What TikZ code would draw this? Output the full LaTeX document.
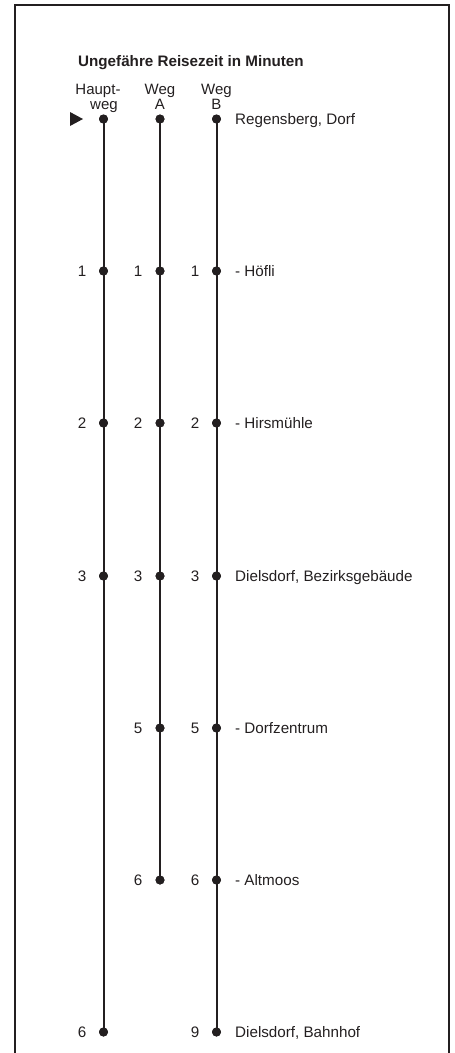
\documentclass[tikz,border=0pt]{standalone}
\usepackage{fontspec}
\setmainfont{Liberation Sans}
\definecolor{ink}{HTML}{231F20}
\begin{document}
\begin{tikzpicture}[x=1pt,y=-1pt,
  dot/.style={circle,fill=ink,inner sep=0pt,minimum size=9pt},
  route/.style={line width=2pt,draw=ink},
  txt/.style={inner sep=0pt,text=ink,font=\fontsize{15.2}{16}\selectfont},
  lbl/.style={txt,anchor=base west},
  num/.style={txt,anchor=base},
  head/.style={inner sep=0pt,text=ink,anchor=base,font=\fontsize{15}{15}\selectfont}]
\useasboundingbox (0,0) rectangle (455,1053);
\draw[line width=2pt,draw=ink] (15,1053) -- (15,5) -- (449,5) -- (449,1053);
% title and headers
\node[txt,anchor=base west,font=\fontsize{15.2}{16}\selectfont\bfseries] (title) at (78,66.5) {Ungefähre Reisezeit in Minuten};
\node[head] (hh1) at (98,94) {Haupt-};
\node[head] (hh2) at (104,109.5) {weg};
\node[head] (ha1) at (160,94) {Weg};
\node[head] (ha2) at (160,109.5) {A};
\node[head] (hb1) at (216.5,94) {Weg};
\node[head] (hb2) at (216.5,109.5) {B};
% start arrow
\fill[ink] (70,112) -- (83,119) -- (70,126) -- cycle;
% dots
\foreach \i/\y in {0/119,1/271,2/423,3/576,6/1032}
  \node[dot] (h\i) at (103.5,\y) {};
\foreach \i/\y in {0/119,1/271,2/423,3/576,4/728,5/880}
  \node[dot] (a\i) at (160,\y) {};
\foreach \i/\y in {0/119,1/271,2/423,3/576,4/728,5/880,6/1032}
  \node[dot] (b\i) at (216.5,\y) {};
% routes
\draw[route] (h0.center) -- (h1.center) -- (h2.center) -- (h3.center) -- (h6.center);
\draw[route] (a0.center) -- (a1.center) -- (a2.center) -- (a3.center) -- (a4.center) -- (a5.center);
\draw[route] (b0.center) -- (b1.center) -- (b2.center) -- (b3.center) -- (b4.center) -- (b5.center) -- (b6.center);
% redraw dots on top
\foreach \n in {h0,h1,h2,h3,h6,a0,a1,a2,a3,a4,a5,b0,b1,b2,b3,b4,b5,b6}
  \fill[ink] (\n.center) circle (4.5pt);
% numbers
\foreach \i/\y/\t in {1/271/1,2/423/2,3/576/3,6/1032/6}
  \node[num] (nh\i) at (82,\y+5.5) {\t};
\foreach \i/\y/\t in {1/271/1,2/423/2,3/576/3,4/728/5,5/880/6}
  \node[num] (na\i) at (138,\y+5.5) {\t};
\foreach \i/\y/\t in {1/271/1,2/423/2,3/576/3,4/728/5,5/880/6,6/1032/9}
  \node[num] (nb\i) at (195,\y+5.5) {\t};
% stop names
\node[lbl] (s0) at (235,124.5) {Regensberg, Dorf};
\node[lbl] (s1) at (235,276.5) {- Höfli};
\node[lbl] (s2) at (235,428.5) {- Hirsmühle};
\node[lbl] (s3) at (235,581.5) {Dielsdorf, Bezirksgebäude};
\node[lbl] (s4) at (235,733.5) {- Dorfzentrum};
\node[lbl] (s5) at (235,885.5) {- Altmoos};
\node[lbl] (s6) at (235,1037.5) {Dielsdorf, Bahnhof};
\end{tikzpicture}
\end{document}
